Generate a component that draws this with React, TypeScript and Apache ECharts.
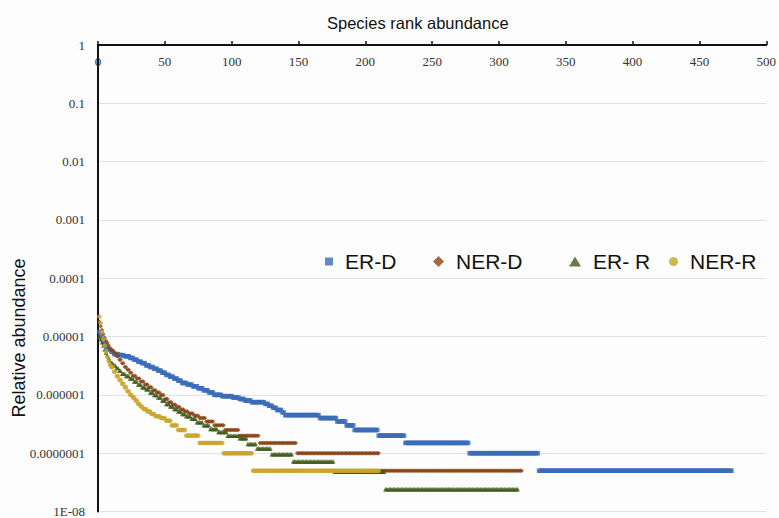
import React, { useEffect, useRef } from "react";
import * as echarts from "echarts";

// Run-length readings of each rank-abundance curve: [relative abundance, number of consecutive ranks]
const erD: [number, number][] = [
  [1.2e-5, 1], [1.05e-5, 1], [9e-6, 1], [8e-6, 1], [7.5e-6, 1], [7e-6, 1], [6.5e-6, 1],
  [6e-6, 2], [5.5e-6, 2], [5e-6, 4], [4.8e-6, 4], [4.6e-6, 4], [4.3e-6, 3], [4e-6, 3],
  [3.7e-6, 3], [3.5e-6, 3], [3.2e-6, 3], [3e-6, 3], [2.8e-6, 3], [2.6e-6, 3], [2.4e-6, 3],
  [2.2e-6, 3], [2.05e-6, 3], [1.9e-6, 3], [1.75e-6, 3], [1.6e-6, 4], [1.5e-6, 4], [1.4e-6, 4],
  [1.3e-6, 4], [1.2e-6, 4], [1.1e-6, 4], [1e-6, 6], [9.5e-7, 8], [9e-7, 5], [8.5e-7, 4],
  [8e-7, 5], [7.5e-7, 10], [7e-7, 3], [6.5e-7, 3], [6e-7, 3], [5.5e-7, 4], [5e-7, 2],
  [4.5e-7, 26], [4e-7, 13], [3.5e-7, 7], [3e-7, 6], [2.5e-7, 18], [2e-7, 20], [1.5e-7, 48],
  [1e-7, 52], [5e-8, 145],
];
const nerD: [number, number][] = [
  [1.8e-5, 1], [1.5e-5, 1], [1.3e-5, 1], [1.1e-5, 1], [9.5e-6, 1], [8.5e-6, 1], [7.8e-6, 1],
  [7e-6, 1], [6.3e-6, 1], [5.8e-6, 2], [5.2e-6, 2], [4.6e-6, 2], [4e-6, 2], [3.5e-6, 2],
  [3e-6, 2], [2.7e-6, 2], [2.4e-6, 2], [2.1e-6, 3], [1.9e-6, 3], [1.7e-6, 3], [1.5e-6, 3],
  [1.35e-6, 3], [1.2e-6, 3], [1.1e-6, 3], [1e-6, 3], [8.5e-7, 3], [7.5e-7, 3], [6.8e-7, 3],
  [6.2e-7, 3], [5.6e-7, 3], [5.2e-7, 3], [4.8e-7, 4], [4.4e-7, 4], [4e-7, 5], [3.5e-7, 6],
  [3e-7, 8], [2.5e-7, 11], [2e-7, 15], [1.5e-7, 28], [1e-7, 62], [5e-8, 107],
];
const erR: [number, number][] = [
  [1e-5, 1], [9e-6, 1], [8e-6, 1], [7e-6, 1], [6e-6, 1], [5.3e-6, 1], [4.8e-6, 1], [4.3e-6, 1],
  [3.9e-6, 1], [3.5e-6, 2], [3.2e-6, 2], [2.9e-6, 2], [2.6e-6, 2], [2.3e-6, 3], [2.1e-6, 3],
  [1.9e-6, 3], [1.7e-6, 3], [1.5e-6, 3], [1.35e-6, 3], [1.25e-6, 3], [1.1e-6, 3], [1e-6, 3],
  [9e-7, 3], [8e-7, 3], [7e-7, 3], [6.3e-7, 3], [5.7e-7, 3], [5.2e-7, 3], [4.7e-7, 3],
  [4.3e-7, 4], [3.9e-7, 4], [3.4e-7, 5], [3e-7, 5], [2.6e-7, 6], [2.3e-7, 7], [2e-7, 9],
  [1.8e-7, 6], [1.44e-7, 7], [1.2e-7, 11], [9.6e-8, 16], [7.2e-8, 31], [4.8e-8, 38], [2.4e-8, 100],
];
const nerR: [number, number][] = [
  [2.2e-5, 1], [1.7e-5, 1], [1.2e-5, 1], [9e-6, 1], [7e-6, 1], [5.5e-6, 1], [4.5e-6, 1],
  [3.8e-6, 1], [3.3e-6, 1], [3e-6, 2], [2.5e-6, 2], [2.1e-6, 2], [1.8e-6, 2], [1.55e-6, 2],
  [1.35e-6, 2], [1.15e-6, 2], [1e-6, 2], [9e-7, 2], [8e-7, 2], [7e-7, 2], [6.3e-7, 2],
  [5.7e-7, 3], [5.2e-7, 3], [4.7e-7, 3], [4.3e-7, 4], [4e-7, 4], [3.6e-7, 4], [3e-7, 5],
  [2.5e-7, 6], [2e-7, 10], [1.5e-7, 18], [1e-7, 22], [5e-8, 95],
];

const seriesNames = ["ER-D", "NER-D", "ER- R", "NER-R"];
const seriesRuns = [erD, nerD, erR, nerR];
const seriesColors = ["#3a6bb8", "#8a4216", "#3d5a16", "#c9a52b"];
const seriesSymbols = ["rect", "diamond", "triangle", "circle"];
const xTicks = { min: 0, max: 500, interval: 50 };
const yRange = { min: 1e-8, max: 1 };

function expand(runs: [number, number][]): [number, number][] {
  const out: [number, number][] = [];
  let rank = 1;
  for (const [v, n] of runs) {
    for (let i = 0; i < n; i++) {
      out.push([rank, v]);
      rank++;
    }
  }
  return out;
}

function yLabel(v: number): string {
  const e = Math.round(Math.log10(v));
  if (e === 0) return "1";
  if (e === -8) return "1E-08";
  return "0." + "0".repeat(-e - 1) + "1";
}

export default function App() {
  const ref = useRef<HTMLDivElement>(null);
  useEffect(() => {
    if (!ref.current) return;
    const chart = echarts.init(ref.current, null, { renderer: "svg" });
    const legendLefts = [320, 428, 564, 664];
    const legendSizes = [[8, 8], [11, 11], [12, 10], [9, 9]];
    chart.setOption({
      animation: false,
      backgroundColor: "#fdfdfd",
      grid: { left: 98, right: 12, top: 45, bottom: 6, containLabel: false },
      xAxis: {
        type: "value",
        position: "top",
        min: xTicks.min,
        max: xTicks.max,
        interval: xTicks.interval,
        axisLine: { show: true, onZero: false, lineStyle: { color: "#111", width: 2 } },
        axisTick: { show: true, inside: false, length: 4, lineStyle: { color: "#111", width: 1.5 } },
        axisLabel: {
          inside: true,
          margin: 10,
          fontFamily: "Liberation Serif",
          fontSize: 13,
          color: "#333",
        },
        splitLine: { show: false },
      },
      yAxis: {
        type: "log",
        logBase: 10,
        min: yRange.min,
        max: yRange.max,
        axisLine: { show: true, onZero: false, lineStyle: { color: "#111", width: 2 } },
        axisTick: { show: false },
        axisLabel: {
          formatter: yLabel,
          margin: 13,
          fontFamily: "Liberation Serif",
          fontSize: 13,
          color: "#333",
        },
        splitLine: { show: true, lineStyle: { color: "#e2e2e2", width: 1 } },
      },
      legend: seriesNames.map((name, i) => ({
        left: legendLefts[i],
        top: 246,
        itemWidth: legendSizes[i][0],
        itemHeight: legendSizes[i][1],
        data: [{ name, icon: seriesSymbols[i] }],
        textStyle: {
          fontFamily: "Liberation Sans",
          fontSize: 21,
          color: "#111",
          padding: [0, 0, 0, 7],
        },
        selectedMode: false,
      })),
      graphic: [
        {
          type: "text",
          left: 327,
          top: 14,
          style: {
            text: "Species rank abundance",
            fontFamily: "Liberation Sans",
            fontSize: 16.5,
            fill: "#111",
          },
        },
        {
          type: "text",
          x: 19,
          y: 338,
          rotation: Math.PI / 2,
          style: {
            text: "Relative abundance",
            fontFamily: "Liberation Sans",
            fontSize: 18,
            fill: "#111",
            align: "center",
            verticalAlign: "middle",
          },
        },
      ],
      series: seriesNames.map((name, i) => ({
        name,
        type: "scatter",
        symbol: seriesSymbols[i],
        symbolSize: 4.5,
        itemStyle: { color: seriesColors[i] },
        data: expand(seriesRuns[i]),
        z: 2 + i,
      })),
    });
    return () => chart.dispose();
  }, []);
  return (
    <div
      ref={ref}
      style={{ position: "fixed", left: 0, top: 0, width: 779, height: 518 }}
    />
  );
}
